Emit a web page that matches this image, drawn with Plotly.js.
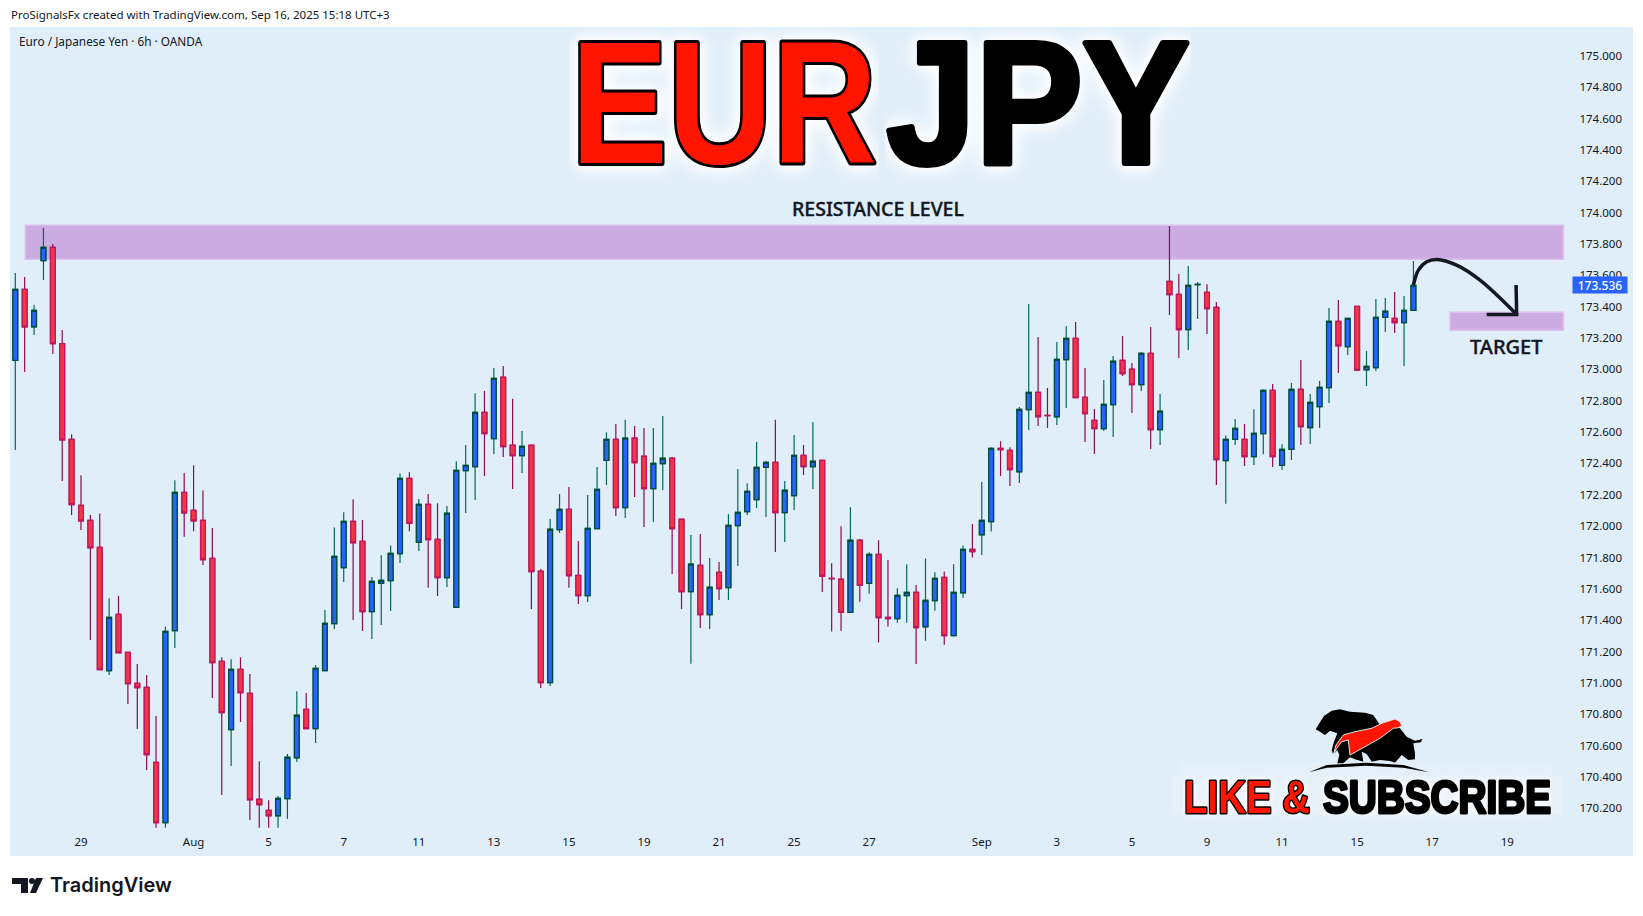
<!DOCTYPE html>
<html>
<head>
<meta charset="utf-8">
<script src="https://cdn.plot.ly/plotly-3.0.1.min.js"></script>
<style>
    html, body { margin: 0; padding: 0; background: #fff; overflow: hidden; }
    #chart { width: 1643px; height: 916px; }
</style>
</head>
<body>
<div id="chart"></div>
<script>
// 6h candles
const opens = [
    173.058,173.511,173.272,173.694,173.779,173.164,172.553,172.132,172.037,171.865,
    171.078,171.437,171.195,170.997,170.971,170.493,170.108,171.333,172.215,172.100,
    172.037,171.794,171.137,170.701,171.086,170.933,170.257,170.186,170.152,170.261,
    170.522,170.831,170.708,171.078,171.378,171.735,172.030,171.903,171.454,171.635,
    171.652,171.824,172.305,171.897,172.139,171.916,171.671,171.482,172.354,172.380,
    172.726,172.558,172.950,172.516,172.450,172.516,171.712,171.001,171.978,172.107,
    171.686,171.557,171.984,172.420,172.554,172.118,172.561,172.446,172.239,172.399,
    172.433,172.044,171.582,171.750,171.435,171.705,171.608,172.003,172.093,172.169,
    172.375,172.407,172.086,172.195,172.452,172.380,172.420,171.667,171.661,171.450,
    171.910,171.635,171.820,171.418,171.410,171.556,171.577,171.358,171.524,171.673,
    171.301,171.575,171.852,171.945,172.029,172.496,172.484,172.347,172.743,172.854,
    172.707,172.698,173.062,173.198,172.822,172.675,172.622,172.775,173.058,173.001,
    172.903,173.102,172.616,173.562,173.479,173.254,173.541,173.492,173.396,172.418,
    172.554,172.554,172.443,172.590,172.866,172.388,172.490,172.873,172.628,172.762,
    172.884,173.307,173.145,173.402,172.998,173.011,173.332,173.326,173.298,173.377
];
const highs = [
    173.615,173.589,173.411,173.902,173.800,173.251,172.587,172.324,172.071,172.081,
    171.539,171.554,171.195,171.120,171.050,170.788,171.360,172.292,172.339,172.388,
    172.228,171.988,171.163,171.150,171.163,171.056,170.499,170.250,170.278,170.546,
    170.946,170.935,171.114,171.465,171.992,172.088,172.171,172.039,171.675,171.814,
    171.877,172.336,172.343,172.173,172.205,172.146,172.129,172.414,172.518,172.848,
    172.863,173.009,173.022,172.812,172.607,172.516,171.727,172.046,172.205,172.250,
    171.905,172.199,172.378,172.599,172.652,172.678,172.639,172.626,172.626,172.703,
    172.441,172.044,171.944,171.950,171.797,171.771,172.078,172.365,172.273,172.537,
    172.416,172.678,172.288,172.582,172.518,172.665,172.420,171.763,171.999,172.120,
    171.918,171.833,171.910,171.784,171.603,171.756,171.624,171.794,171.705,171.711,
    171.756,171.877,172.014,172.281,172.503,172.541,172.503,172.760,173.417,173.207,
    172.881,173.175,173.277,173.303,173.009,172.747,172.932,173.085,173.213,173.041,
    173.111,173.271,172.843,173.915,173.609,173.660,173.558,173.543,173.430,172.579,
    172.684,172.652,172.745,172.873,172.907,172.522,172.913,173.060,172.843,172.926,
    173.392,173.443,173.326,173.402,173.117,173.449,173.456,173.494,173.468,173.692
];
const lows = [
    172.485,172.983,173.219,173.570,173.098,172.288,172.071,171.975,171.273,171.084,
    171.050,171.192,170.865,170.705,170.444,170.076,170.076,171.222,171.932,171.968,
    171.752,170.903,170.284,170.469,170.750,170.125,170.076,170.076,170.076,170.131,
    170.495,170.708,170.616,171.078,171.343,171.643,171.401,171.331,171.280,171.369,
    171.458,171.765,171.968,171.842,171.606,171.554,171.612,171.482,172.084,172.167,
    172.320,172.461,172.441,172.237,172.339,171.471,170.967,170.980,171.956,171.606,
    171.503,171.516,171.984,172.263,172.065,172.052,172.186,171.995,172.027,172.231,
    171.695,171.471,171.121,171.350,171.344,171.529,171.529,171.746,172.071,172.116,
    172.059,171.835,171.899,172.103,172.327,172.237,171.580,171.327,171.333,171.450,
    171.518,171.569,171.257,171.359,171.384,171.384,171.120,171.269,171.460,171.243,
    171.301,171.543,171.799,171.816,171.965,172.320,172.256,172.275,172.613,172.639,
    172.626,172.645,172.754,172.820,172.537,172.460,172.607,172.569,172.958,172.722,
    172.862,172.492,172.518,173.347,173.073,173.124,173.322,173.226,172.262,172.143,
    172.518,172.384,172.390,172.458,172.377,172.358,172.422,172.518,172.524,172.626,
    172.786,172.977,173.092,172.990,172.894,172.990,173.239,173.232,173.022,173.377
];
const closes = [
    173.511,173.272,173.377,173.779,173.164,172.551,172.137,172.034,171.862,171.084,
    171.418,171.192,170.995,170.969,170.542,170.108,171.329,172.215,172.085,172.034,
    171.786,171.129,170.810,171.086,170.937,170.254,170.223,170.152,170.263,170.525,
    170.793,170.708,171.092,171.380,171.807,172.030,171.894,171.454,171.648,171.654,
    171.826,172.305,172.017,172.139,171.914,171.671,172.082,172.356,172.388,172.726,
    172.590,172.943,172.507,172.450,172.509,171.710,171.001,171.980,172.107,171.684,
    171.557,171.986,172.235,172.554,172.118,172.561,172.405,172.239,172.401,172.433,
    171.984,171.582,171.757,171.435,171.610,171.601,172.005,172.088,172.222,172.375,
    172.407,172.086,172.229,172.452,172.380,172.414,171.680,171.665,171.450,171.910,
    171.622,171.820,171.416,171.410,171.558,171.577,171.352,171.526,171.667,171.301,
    171.577,171.852,171.837,172.037,172.496,172.488,172.360,172.745,172.854,172.698,
    172.705,173.064,173.198,172.820,172.718,172.622,172.777,173.052,172.973,172.903,
    173.102,172.616,172.733,173.477,173.254,173.536,173.543,173.388,172.424,172.554,
    172.624,172.443,172.592,172.866,172.443,172.490,172.873,172.635,172.790,172.886,
    173.307,173.151,173.326,172.996,173.020,173.332,173.371,173.298,173.377,173.536
];

const xTickIndex = [7,19,27,35,43,51,59,67,75,83,91,103,111,119,127,135,143,151,159];
const xTickLabels = ['29','Aug','5','7','11','13','15','19','21','25','27','Sep','3','5','9','11','15','17','19'];
const yTickValues = [170.2,170.4,170.6,170.8,171.0,171.2,171.4,171.6,171.8,172.0,172.2,172.4,172.6,
    172.8,173.0,173.2,173.4,173.6,173.8,174.0,174.2,174.4,174.6,174.8,175.0];

const lastPrice = 173.536;

// Drawn zones and the hand drawn arrow, in candle index / price
const resistanceZone = {x0: 1.07, x1: 164.98, y0: 173.703, y1: 173.920};
const targetZone = {x0: 152.9, x1: 164.98, y0: 173.250, y1: 173.364};
const arrowX = [149, 149.53, 150.42, 151.49, 153.6, 156.1, 160.0];
const arrowY = [173.539, 173.634, 173.687, 173.702, 173.666, 173.570, 173.351];
const arrowHeadX = [159.94, 160.0, 156.8];
const arrowHeadY = [173.539, 173.351, 173.351];

const COLOR_PANEL = '#e0eef9';
const COLOR_TEXT = '#131722';
const COLOR_ZONE = '#ccabe0';
const COLOR_ZONE_EDGE = '#dcbff0';
const FONT_AXIS = 'Noto Sans, sans-serif';

// Page pixel to paper coordinates, the plot area sits at 10..1633 x 27..856
function paperX(px) { return (px - 10) / 1623; }
function paperY(py) { return 1 - (py - 27) / 829; }

function pixelPath(points) {
    return 'M' + points.map(p => paperX(p[0]) + ',' + paperY(p[1])).join(' L') + ' Z';
}

// Bull and bear logo above the subscribe line, page pixels
const logoBody = [[1315.7,729.3],[1319.3,723.3],[1324,716],[1331.7,710.7],[1340,709.3],[1350,711.7],[1365,712.7],
    [1373.3,715],[1380,725],[1400,728.3],[1406.7,736.7],[1415,740.7],[1422.7,739],[1420.7,742.3],[1413.3,743.3],
    [1415,753.3],[1415,759.3],[1408.3,760],[1401.7,755],[1395,762.7],[1390,761],[1380,760],[1371.7,761.7],
    [1366.7,754],[1361.7,751.7],[1363.3,761.7],[1355,759.3],[1350,757.3],[1343.3,763.3],[1337.3,763.3],
    [1339.3,755],[1337.3,750],[1333.3,755],[1331.7,750],[1334,741.7],[1337.3,733.3],[1330,730.7],[1325,735],[1320,731.7]];
const logoStreak = [[1333.3,755],[1336,745],[1343.3,735],[1355,731.7],[1371.7,728.3],[1383.3,722.7],[1395,719],
    [1400,721.7],[1401.7,726],[1398.3,727.7],[1393.3,728.3],[1380,738.3],[1350,755],[1348.3,740],[1341.7,741.7],[1336.7,748.3]];
const logoGround = [[1309,772.3],[1326.7,765],[1366.7,762.7],[1403.3,765],[1429.3,772.3],[1403.3,767.7],[1366.7,765.7],[1326.7,767.7]];

// TradingView mark in the footer, page pixels
const tvTop = [[12,878],[28,878],[28,893],[21,893],[21,884],[12,884]];
const tvSlash = [[36,878],[43,878],[36,893],[30,893]];

let xData = [];
let bodyHigh = [];
let bodyLow = [];
for (let i in opens) {
    xData.push(Number(i));
    bodyHigh.push(Math.max(opens[i], closes[i]));
    bodyLow.push(Math.min(opens[i], closes[i]));
}

// Plotly uses one colour per direction, so wicks and bodies are two traces
let wicks = {
    x: xData, open: opens, high: highs, low: lows, close: closes,
    type: 'candlestick',
    increasing: {line: {color: '#00695c', width: 1.2}, fillcolor: '#00695c'},
    decreasing: {line: {color: '#880e4f', width: 1.2}, fillcolor: '#880e4f'},
    whiskerwidth: 0,
    hoverinfo: 'skip'
};
let bodies = {
    x: xData, open: opens, high: bodyHigh, low: bodyLow, close: closes,
    type: 'candlestick',
    increasing: {line: {color: '#004d40', width: 1.3}, fillcolor: '#2962ff'},
    decreasing: {line: {color: '#c2185b', width: 1.3}, fillcolor: '#f23645'},
    whiskerwidth: 0,
    hoverinfo: 'skip'
};
let arrow = {
    x: arrowX, y: arrowY, type: 'scatter', mode: 'lines',
    line: {color: COLOR_TEXT, width: 3.5, shape: 'spline', smoothing: 1},
    hoverinfo: 'skip'
};
let arrowHead = {
    x: arrowHeadX, y: arrowHeadY, type: 'scatter', mode: 'lines',
    line: {color: COLOR_TEXT, width: 3.5},
    hoverinfo: 'skip'
};

function zoneShape(zone) {
    return {
        type: 'rect', xref: 'x', yref: 'y', layer: 'below',
        x0: zone.x0, x1: zone.x1, y0: zone.y0, y1: zone.y1,
        fillcolor: COLOR_ZONE,
        line: {color: COLOR_ZONE_EDGE, width: 1.5}
    };
}
function logoShape(points, color, edge) {
    return {
        type: 'path', xref: 'paper', yref: 'paper', path: pixelPath(points), fillcolor: color,
        line: edge ? {color: edge, width: 1} : {width: 0}
    };
}
function haloShape(x0, x1, y0, y1, alpha) {
    return {
        type: 'rect', xref: 'paper', yref: 'paper', layer: 'below',
        x0: paperX(x0), x1: paperX(x1), y0: paperY(y0), y1: paperY(y1),
        fillcolor: 'rgba(255,255,255,' + alpha + ')', line: {width: 0}
    };
}

function label(text, px, py, font, extra) {
    return Object.assign({
        text: text, showarrow: false, xref: 'paper', yref: 'paper',
        x: paperX(px), y: paperY(py), xanchor: 'center', yanchor: 'middle',
        font: font
    }, extra || {});
}

let annotations = [
    label('EUR', 724, 103, {family: 'Liberation Sans', size: 174, color: '#ff1500', weight: 700}, {width: 310}),
    label('JPY', 1038, 103, {family: 'Liberation Sans', size: 174, color: '#000000', weight: 700}, {width: 306}),
    label('LIKE &amp;', 1247, 797, {family: 'Liberation Sans', size: 46, color: '#ff1500', weight: 700}, {width: 128}),
    label('SUBSCRIBE', 1436.5, 797, {family: 'Liberation Sans', size: 46, color: '#000000', weight: 700}, {width: 232}),
    label('RESISTANCE LEVEL', 878, 208.5, {family: 'Noto Sans', size: 19.5, color: COLOR_TEXT, weight: 500}),
    label('TARGET', 1506.7, 346.7, {family: 'Noto Sans', size: 20, color: COLOR_TEXT, weight: 500}),
    label('ProSignalsFx created with TradingView.com, Sep 16, 2025 15:18 UTC+3', 10, 15,
        {family: FONT_AXIS, size: 11.5, color: COLOR_TEXT}, {xanchor: 'left', xshift: -1}),
    label('Euro / Japanese Yen · 6h · OANDA', 18, 41,
        {family: FONT_AXIS, size: 11.8, color: COLOR_TEXT}, {xanchor: 'left', xshift: -1}),
    label('TradingView', 49, 885, {family: 'Inter', size: 20, color: '#131722', weight: 600},
        {xanchor: 'left', xshift: -1}),
    {
        text: lastPrice.toFixed(3), showarrow: false, xref: 'paper', yref: 'y',
        x: paperX(1600), y: lastPrice, xanchor: 'center', yanchor: 'middle',
        width: 52, height: 14, bgcolor: '#2962ff',
        font: {family: FONT_AXIS, size: 12, color: '#ffffff', weight: 500}
    }
];

let layout = {
    width: 1643,
    height: 916,
    paper_bgcolor: '#ffffff',
    plot_bgcolor: COLOR_PANEL,
    showlegend: false,
    margin: {l: 10, r: 10, t: 27, b: 60},
    boxgap: 0.27,
    xaxis: {
        range: [-0.565, 172.4],
        tickmode: 'array',
        tickvals: xTickIndex,
        ticktext: xTickLabels,
        ticklabelposition: 'inside',
        ticklabelstandoff: 5,
        ticks: '',
        showgrid: false,
        zeroline: false,
        showline: false,
        rangeslider: {visible: false},
        tickfont: {family: FONT_AXIS, size: 11.5, color: COLOR_TEXT}
    },
    yaxis: {
        range: [169.895, 175.185],
        side: 'right',
        tickmode: 'array',
        tickvals: yTickValues,
        tickformat: '.3f',
        ticklabelposition: 'inside',
        ticklabelstandoff: 8,
        ticks: '',
        showgrid: false,
        zeroline: false,
        showline: false,
        tickfont: {family: FONT_AXIS, size: 11.5, color: COLOR_TEXT}
    },
    shapes: [
        zoneShape(resistanceZone),
        zoneShape(targetZone),
        haloShape(1172, 1561, 776, 815, 0.22),
        haloShape(1180, 1553, 763, 776, 0.1),
        logoShape(logoBody, '#000000'),
        logoShape(logoStreak, '#ff1500', '#e4e8ec'),
        logoShape(logoGround, '#000000'),
        logoShape(tvTop, '#131722'),
        logoShape(tvSlash, '#131722'),
        {type: 'circle', xref: 'paper', yref: 'paper', x0: paperX(29), x1: paperX(35), y0: paperY(878), y1: paperY(884),
            fillcolor: '#131722', line: {width: 0}}
    ],
    annotations: annotations
};

let config = {displayModeBar: false, responsive: false};

// Fit the banner words to their measured widths and give them the heavy outline
function fitBanner() {
    const GLOW_BIG = 'drop-shadow(0 0 9px #ffffff) drop-shadow(0 0 6px #ffffff)';
    const GLOW_SMALL = 'drop-shadow(0 0 5px #ffffff)';
    const fits = {
        'EUR': {length: 306, stroke: 6, glow: GLOW_BIG},
        'JPY': {length: 303, stroke: 6, glow: GLOW_BIG},
        'LIKE': {length: 126, stroke: 3, glow: GLOW_SMALL},
        'SUBSCRIBE': {length: 228, stroke: 3, glow: GLOW_SMALL},
        'RESISTANCE': {stroke: 0.4, color: COLOR_TEXT},
        'TARGET': {stroke: 0.4, color: COLOR_TEXT}
    };
    document.querySelectorAll('.annotation-text').forEach(node => {
        let text = node.textContent;
        for (let key in fits) {
            if (text.indexOf(key) === 0) {
                if (fits[key].length) {
                    node.setAttribute('textLength', fits[key].length);
                    node.setAttribute('lengthAdjust', 'spacingAndGlyphs');
                }
                node.style.stroke = fits[key].color || '#000000';
                node.style.strokeWidth = fits[key].stroke + 'px';
                node.style.paintOrder = 'stroke';
                node.style.strokeLinejoin = 'round';
                if (fits[key].glow) node.style.filter = fits[key].glow;
            }
        }
    });
}

Plotly.newPlot('chart', [wicks, bodies, arrow, arrowHead], layout, config).then(fitBanner);
</script>
</body>
</html>
